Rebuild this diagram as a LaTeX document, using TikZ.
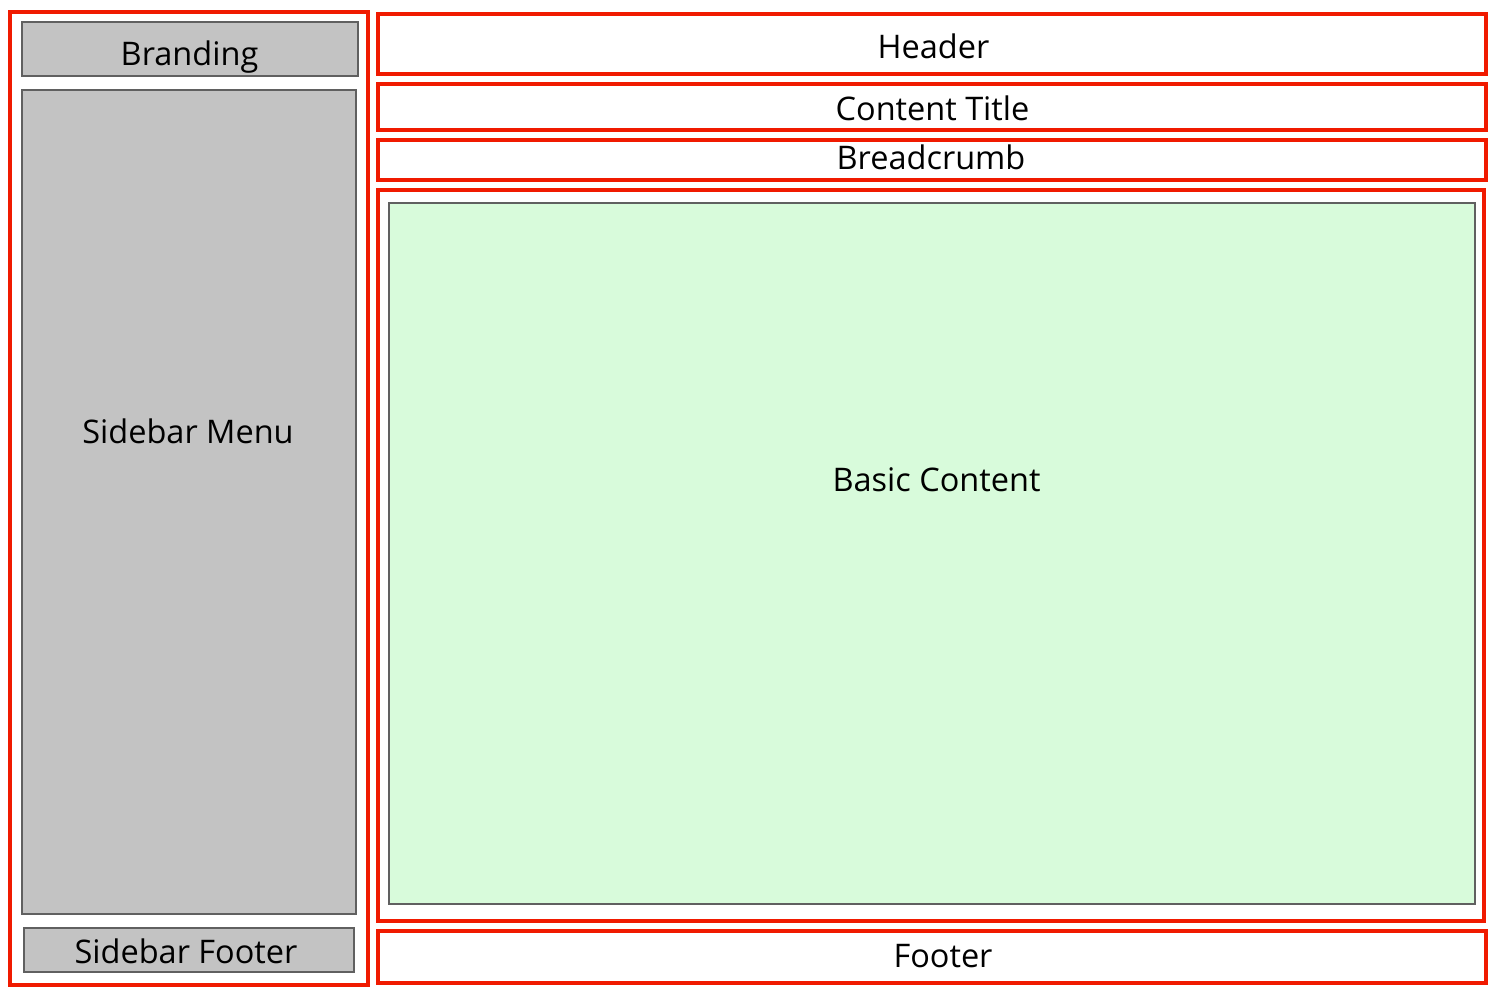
\documentclass[tikz,border=0pt]{standalone}
\usepackage{fontspec}
\setmainfont{Open Sans}
\definecolor{framered}{RGB}{240,26,0}
\definecolor{panelgray}{RGB}{195,195,195}
\definecolor{edgegray}{RGB}{96,96,96}
\definecolor{contentgreen}{RGB}{216,251,219}
\begin{document}
\begin{tikzpicture}[x=1pt, y=-1pt,
    area/.style={draw=framered, line width=4pt, fill=white, inner sep=0pt},
    panel/.style={draw=edgegray, line width=2.2pt, fill=panelgray, inner sep=0pt},
    caption/.style={anchor=base, inner sep=0pt, font=\fontsize{32.5}{39}\selectfont}]
    \useasboundingbox (0,0) rectangle (1496,996);
    % sidebar
    \node[area, minimum width=358, minimum height=973] (sidebar) at (189,498.5) {};
    \node[panel, minimum width=336, minimum height=54] (branding) at (190,49) {};
    \node[panel, minimum width=334, minimum height=824] (menu) at (189,502) {};
    \node[panel, minimum width=330, minimum height=44] (sidefoot) at (189,950) {};
    % main column
    \node[area, minimum width=1108, minimum height=60] (header) at (932,44) {};
    \node[area, minimum width=1108, minimum height=46] (title) at (932,107) {};
    \node[area, minimum width=1108, minimum height=40] (crumb) at (932,160) {};
    \node[area, minimum width=1106, minimum height=731] (main) at (931,555.5) {};
    \node[panel, fill=contentgreen, minimum width=1086, minimum height=701] (content) at (932,553.5) {};
    \node[area, minimum width=1108, minimum height=52] (footer) at (932,957) {};
    % captions
    \node[caption] (brandingtext) at (189.5,65) {Branding};
    \node[caption] (menutext) at (188,443) {Sidebar Menu};
    \node[caption] (sidefoottext) at (186,963) {Sidebar Footer};
    \node[caption] (headertext) at (933.5,58) {Header};
    \node[caption] (titletext) at (932.5,120) {Content Title};
    \node[caption] (crumbtext) at (931,169) {Breadcrumb};
    \node[caption] (contenttext) at (936.5,491) {Basic Content};
    \node[caption] (footertext) at (943,967) {Footer};
\end{tikzpicture}
\end{document}
